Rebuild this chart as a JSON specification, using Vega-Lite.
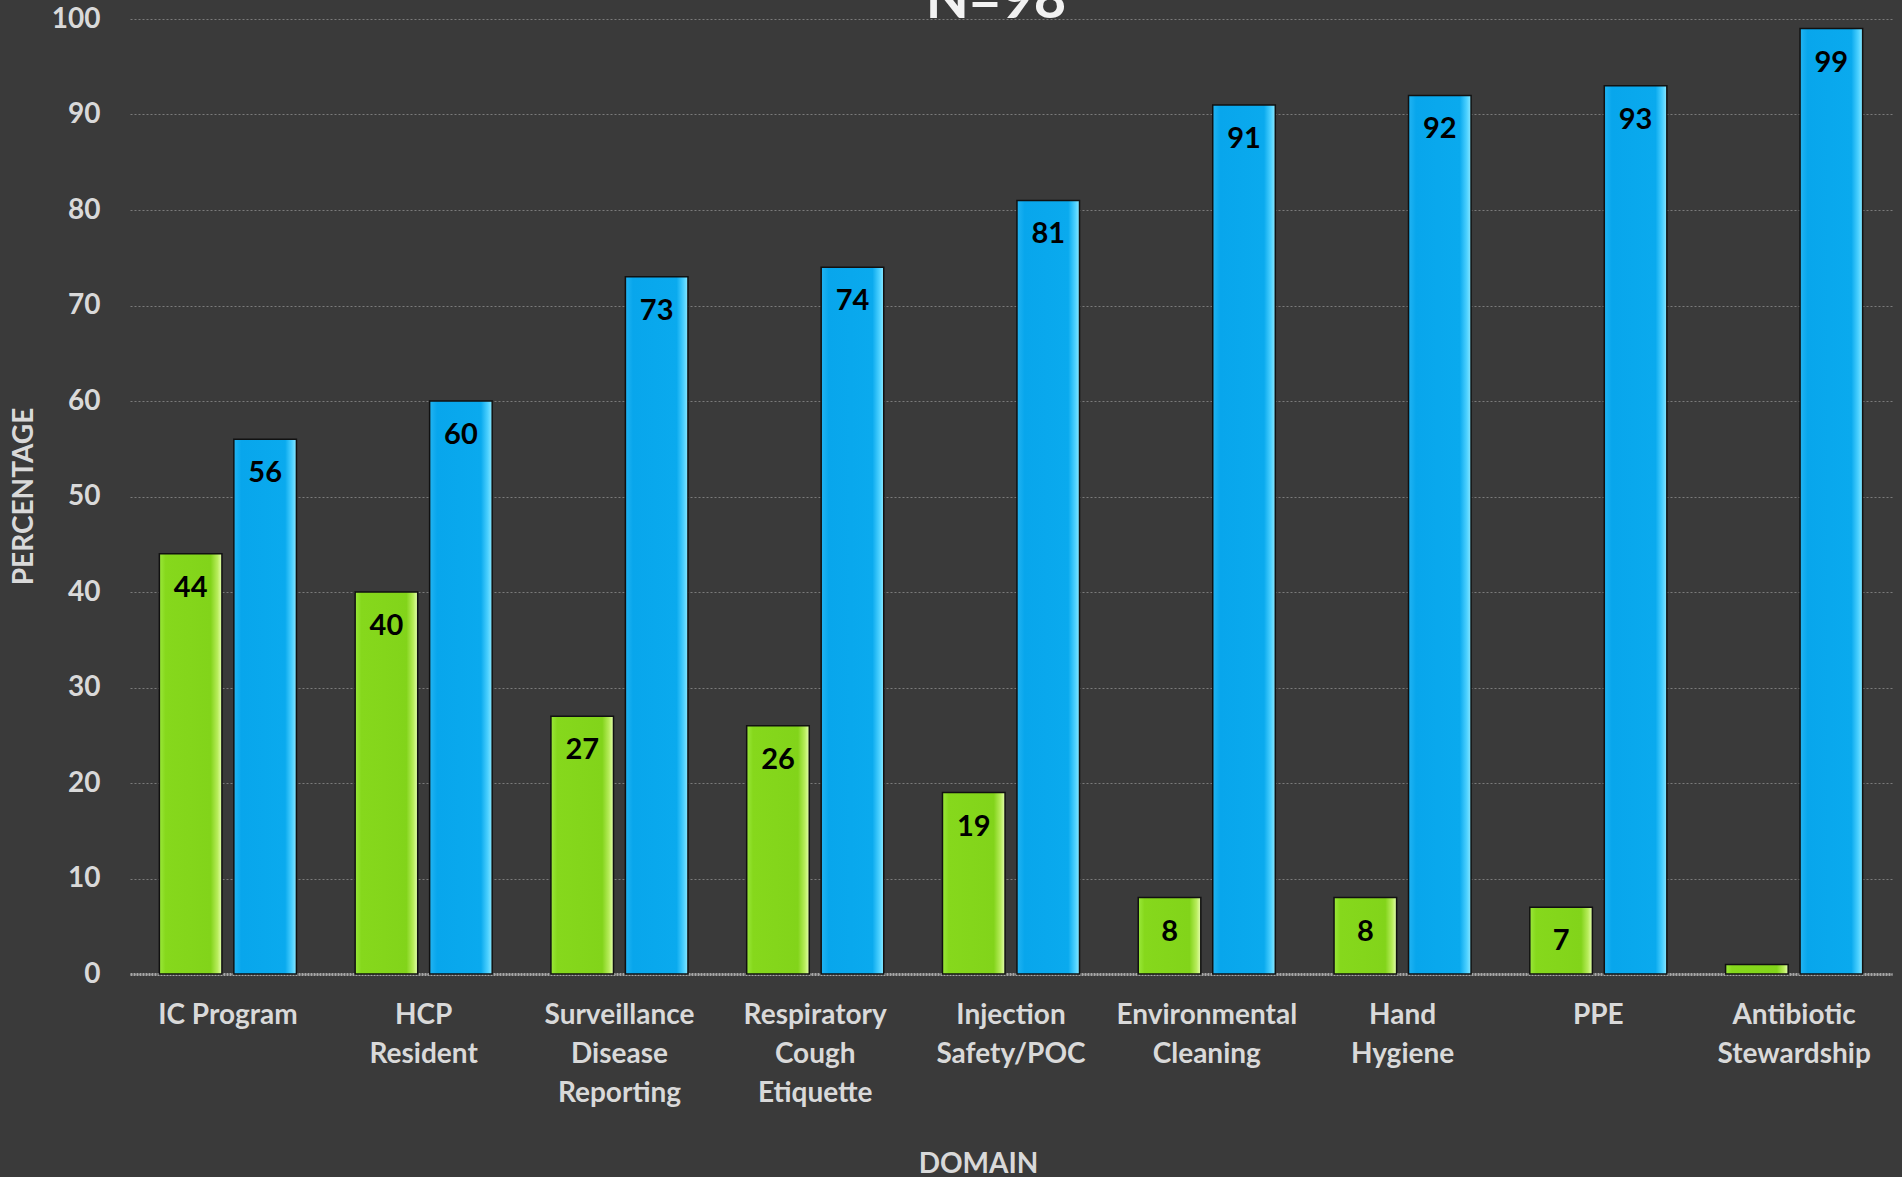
{
  "$schema": "https://vega.github.io/schema/vega-lite/v6.json",
  "autosize": {"type": "none"},
  "padding": {"left": 130, "top": 19, "right": 10, "bottom": 203},
  "width": 1762,
  "height": 955,
  "background": "#3a3a3a",
  "title": {
    "text": "N=98",
    "frame": "group",
    "anchor": "middle",
    "dx": -15,
    "offset": -69,
    "baseline": "alphabetic",
    "font": "Lato",
    "fontSize": 56,
    "fontWeight": "bold",
    "color": "#f2f2f2"
  },
  "config": {
    "view": {"stroke": null},
    "font": "Lato"
  },
  "data": {
    "values": [
      {"domain": "IC Program", "series": "No", "value": 44},
      {"domain": "IC Program", "series": "Yes", "value": 56},
      {"domain": "HCP Resident", "series": "No", "value": 40},
      {"domain": "HCP Resident", "series": "Yes", "value": 60},
      {"domain": "Surveillance Disease Reporting", "series": "No", "value": 27},
      {"domain": "Surveillance Disease Reporting", "series": "Yes", "value": 73},
      {"domain": "Respiratory Cough Etiquette", "series": "No", "value": 26},
      {"domain": "Respiratory Cough Etiquette", "series": "Yes", "value": 74},
      {"domain": "Injection Safety/POC", "series": "No", "value": 19},
      {"domain": "Injection Safety/POC", "series": "Yes", "value": 81},
      {"domain": "Environmental Cleaning", "series": "No", "value": 8},
      {"domain": "Environmental Cleaning", "series": "Yes", "value": 91},
      {"domain": "Hand Hygiene", "series": "No", "value": 8},
      {"domain": "Hand Hygiene", "series": "Yes", "value": 92},
      {"domain": "PPE", "series": "No", "value": 7},
      {"domain": "PPE", "series": "Yes", "value": 93},
      {"domain": "Antibiotic Stewardship", "series": "No", "value": 1},
      {"domain": "Antibiotic Stewardship", "series": "Yes", "value": 99}
    ]
  },
  "encoding": {
    "x": {
      "field": "domain",
      "type": "nominal",
      "sort": null,
      "scale": {"paddingInner": 0.3, "paddingOuter": 0.15},
      "axis": {
        "title": "DOMAIN",
        "titleFont": "Lato",
        "titleFontSize": 28,
        "titleFontWeight": "bold",
        "titleColor": "#d9d9d9",
        "titleX": 848,
        "titleY": 204,
        "titleAlign": "center",
        "titleBaseline": "bottom",
        "labelAngle": 0,
        "labelExpr": "datum.value == 'IC Program' ? datum.value : split(datum.value, ' ')",
        "labelFont": "Lato",
        "labelFontSize": 28,
        "labelFontWeight": "bold",
        "labelColor": "#d9d9d9",
        "labelLineHeight": 39,
        "labelPadding": 27,
        "labelBaseline": "top",
        "labelLimit": 400,
        "ticks": false,
        "domain": true,
        "domainColor": "#a6a6a6",
        "domainWidth": 3,
        "domainDash": [2, 1],
        "grid": false
      }
    },
    "xOffset": {
      "field": "series",
      "type": "nominal",
      "scale": {"domain": ["No", "Yes"], "paddingInner": 0.16, "paddingOuter": 0}
    },
    "y": {
      "field": "value",
      "type": "quantitative",
      "scale": {"domain": [0, 100], "nice": false},
      "axis": {
        "title": "PERCENTAGE",
        "titleFont": "Lato",
        "titleFontSize": 28,
        "titleFontWeight": "bold",
        "titleColor": "#d9d9d9",
        "titleX": -106,
        "titleY": 477,
        "titleAngle": -90,
        "titleAlign": "center",
        "titleBaseline": "middle",
        "values": [0, 10, 20, 30, 40, 50, 60, 70, 80, 90, 100],
        "labelFont": "Lato",
        "labelFontSize": 28,
        "labelFontWeight": "bold",
        "labelColor": "#d9d9d9",
        "labelPadding": 30,
        "ticks": false,
        "domain": false,
        "grid": true,
        "gridColor": "#7a7a7a",
        "gridWidth": 1,
        "gridDash": [2, 2]
      }
    }
  },
  "layer": [
    {
      "transform": [{"filter": "datum.series == 'No'"}],
      "mark": {
        "type": "bar",
        "stroke": "#111111",
        "strokeWidth": 1.5,
        "fill": {
          "gradient": "linear",
          "x1": 0, "y1": 0, "x2": 1, "y2": 0,
          "stops": [
            {"offset": 0, "color": "#9ae83a"},
            {"offset": 0.1, "color": "#86d81c"},
            {"offset": 0.82, "color": "#82d41a"},
            {"offset": 0.93, "color": "#b8ec5c"},
            {"offset": 1, "color": "#e6ffb0"}
          ]
        }
      }
    },
    {
      "transform": [{"filter": "datum.series == 'Yes'"}],
      "mark": {
        "type": "bar",
        "stroke": "#111111",
        "strokeWidth": 1.5,
        "fill": {
          "gradient": "linear",
          "x1": 0, "y1": 0, "x2": 1, "y2": 0,
          "stops": [
            {"offset": 0, "color": "#22b4f2"},
            {"offset": 0.12, "color": "#08a6ec"},
            {"offset": 0.82, "color": "#0aaaee"},
            {"offset": 0.93, "color": "#4cd0ff"},
            {"offset": 1, "color": "#8ae8ff"}
          ]
        }
      }
    },
    {
      "transform": [{"filter": "datum.value > 2"}],
      "mark": {
        "type": "text",
        "align": "center",
        "baseline": "alphabetic",
        "dy": 43,
        "font": "Lato",
        "fontSize": 29,
        "fontWeight": "bold",
        "color": "#000000"
      },
      "encoding": {
        "text": {"field": "value", "type": "quantitative"}
      }
    }
  ]
}
